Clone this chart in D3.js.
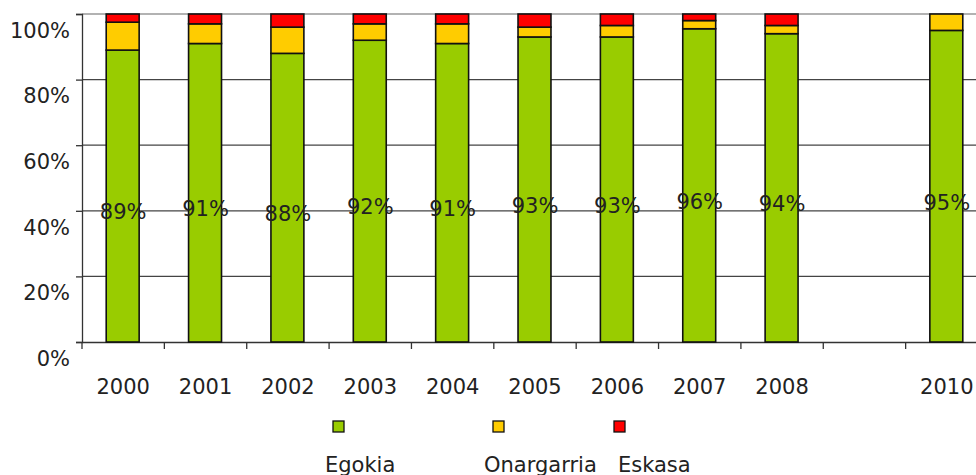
<!DOCTYPE html>
<html><head><meta charset="utf-8">
<script src="https://cdn.jsdelivr.net/npm/d3@7"></script>
<style>body{margin:0;background:#fff}svg{display:block}text{font-family:"DejaVu Sans",Verdana,sans-serif;fill:#222}</style>
</head><body>
<svg id="c" width="976" height="475"></svg>
<script>
const categories = ["2000","2001","2002","2003","2004","2005","2006","2007","2008","2009","2010"];
const seriesNames = ["Egokia","Onargarria","Eskasa"];
const egokia     = [89, 91, 88, 92, 91, 93, 93, 95.5, 94, null, 95];
const onargarria = [8.5, 6, 8, 5, 6, 3, 3.5, 2.5, 2.5, null, 5];
const eskasa     = [2.5, 3, 4, 3, 3, 4, 3.5, 2, 3.5, null, 0];
const labels     = ["89%","91%","88%","92%","91%","93%","93%","96%","94%",null,"95%"];
const xTickLabels = ["2000","2001","2002","2003","2004","2005","2006","2007","2008","","2010"];
const yTicks = [0,20,40,60,80,100];
const colors = ["#99CC00","#FFCC00","#FF0000"];

const svg = d3.select("#c");
const mLeft = 82, mRight = 988, mTop = 14, mBottom = 342;
const x = d3.scaleBand().domain(categories).range([mLeft, mRight]).paddingInner(0).paddingOuter(0);
const y = d3.scaleLinear().domain([0,100]).range([mBottom, mTop]);

// gridlines
svg.append("g").selectAll("line").data(yTicks.filter(d=>d>0)).join("line")
  .attr("x1", mLeft).attr("x2", mRight)
  .attr("y1", d=>y(d)).attr("y2", d=>y(d))
  .attr("stroke", d=> d===100 ? "#999" : "#444").attr("stroke-width", 1.3);

// y axis
const yAxis = svg.append("g").attr("transform", `translate(${mLeft},0)`)
  .call(d3.axisLeft(y).tickValues(yTicks).tickSize(6).tickFormat(d=>d+"%"));
yAxis.select(".domain").attr("stroke","#333").attr("stroke-width",1.3);
yAxis.selectAll(".tick line").attr("stroke","#333").attr("stroke-width",1.3);
yAxis.selectAll(".tick text").attr("x",-12).attr("dy","0.35em").attr("y",16)
  .style("font-size","21px").style("font-family",'"DejaVu Sans",Verdana,sans-serif').attr("fill","#222");

// x axis
const xAxis = svg.append("g").attr("transform", `translate(0,${mBottom})`)
  .call(d3.axisBottom(x).tickSize(0).tickFormat((d,i)=>xTickLabels[i]));
xAxis.select(".domain").attr("stroke","#333").attr("stroke-width",1.3);
xAxis.selectAll(".tick text").attr("y",45).attr("dy","0.35em")
  .style("font-size","21px").style("font-family",'"DejaVu Sans",Verdana,sans-serif').attr("fill","#222");
// boundary ticks
const bounds = categories.map(c=>x(c)).concat([mRight]);
svg.append("g").selectAll("line").data(bounds).join("line")
  .attr("x1",d=>d).attr("x2",d=>d).attr("y1",mBottom).attr("y2",mBottom+7)
  .attr("stroke","#333").attr("stroke-width",1.3);

// stacked bars
const rows = categories.map((c,i)=>({cat:c, Egokia:egokia[i]||0, Onargarria:onargarria[i]||0, Eskasa:eskasa[i]||0}));
const stack = d3.stack().keys(seriesNames)(rows);
const bw = x.bandwidth()*0.4;
stack.forEach((layer, li)=>{
  svg.append("g").selectAll("rect").data(layer.filter(d=>d[1]-d[0]>0)).join("rect")
    .attr("x", d=>x(d.data.cat)+x.bandwidth()/2 - bw/2 - 0.5)
    .attr("width", bw)
    .attr("y", d=>y(d[1]))
    .attr("height", d=>y(d[0])-y(d[1]))
    .attr("fill", colors[li]).attr("stroke","#111").attr("stroke-width",1.6);
});

// value labels
svg.append("g").selectAll("text").data(categories.map((c,i)=>({c, v:egokia[i], l:labels[i]})).filter(d=>d.l)).join("text")
  .attr("x", d=>x(d.c)+x.bandwidth()/2)
  .attr("y", d=>y(d.v/2)+16)
  .attr("dy","0.35em").attr("text-anchor","middle")
  .style("font-size","21px").text(d=>d.l);

// legend
const legX = [333, 493, 614];
const legTextX = [325, 484, 618];
seriesNames.forEach((s,i)=>{
  svg.append("rect").attr("x",legX[i]).attr("y",421).attr("width",11).attr("height",11)
    .attr("fill",colors[i]).attr("stroke","#111").attr("stroke-width",1.3);
  svg.append("text").attr("x",legTextX[i]).attr("y",465).attr("dy","0.35em")
    .style("font-size","21px").text(s);
});
</script>
</body></html>
